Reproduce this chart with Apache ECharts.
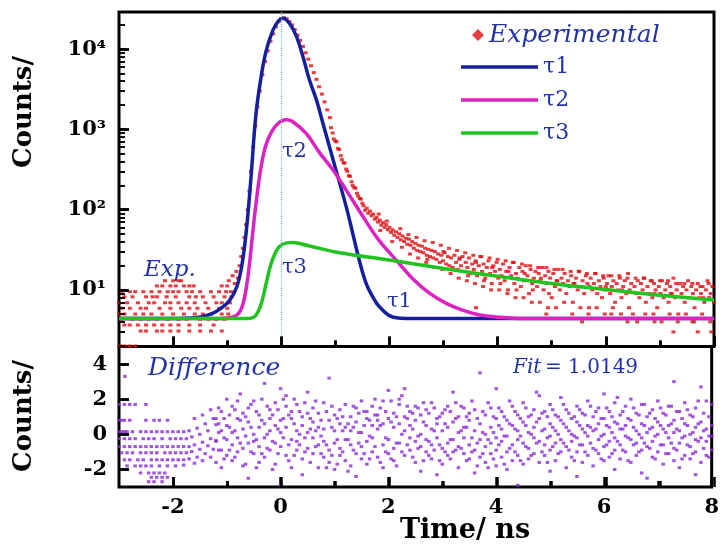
<!DOCTYPE html>
<html>
<head>
<meta charset="utf-8">
<title>Decay fit</title>
<script src="https://cdn.jsdelivr.net/npm/echarts@6/dist/echarts.min.js"></script>
<style>
html, body { margin: 0; padding: 0; background: #fff; }
#wrap { position: relative; width: 722px; height: 544px; }
#main, #ticks { position: absolute; left: 0; top: 0; width: 722px; height: 544px; }
#ticks { pointer-events: none; }
</style>
</head>
<body>
<div id="wrap"><div id="main"></div><div id="ticks"></div></div>
<script>
// fitted components, [time ns, counts]
var tau1Data = [[-3,4.4],[-2,4.4],[-1.6,4.5],[-1.3,5],[-1.1,6],[-0.95,7.5],[-0.82,11],[-0.72,22],[-0.64,60],[-0.56,250],
    [-0.47,1500],[-0.38,4200],[-0.28,9500],[-0.15,17500],[-0.05,22500],[0.03,24300],[0.15,21000],[0.28,14400],[0.4,8100],
    [0.52,4140],[0.65,2330],[0.77,1190],[0.89,611],[1.01,313],[1.2,109],[1.32,51],[1.44,23.6],[1.57,12],[1.7,8],[1.81,6.2],
    [2.06,4.6],[2.4,4.4],[8,4.4]];
var tau2Data = [[-3,4.4],[-1.2,4.4],[-0.9,4.6],[-0.77,5.3],[-0.68,8],[-0.6,18],[-0.53,50],[-0.46,130],[-0.38,320],[-0.29,620],
    [-0.18,930],[-0.05,1200],[0.09,1320],[0.2,1260],[0.46,890],[0.7,520],[0.95,316],[1.2,175],[1.51,82],[1.8,42],[2.12,23.6],
    [2.42,14],[2.74,9.1],[3.05,6.8],[3.35,5.6],[3.65,4.9],[3.97,4.6],[4.5,4.4],[8,4.4]];
var tau3Data = [[-3,4.4],[-0.62,4.4],[-0.5,4.6],[-0.42,5.5],[-0.35,7.5],[-0.28,12],[-0.2,20],[-0.12,28],[-0.03,35],[0.1,38.5],
    [0.21,39],[0.5,35.5],[1.08,29],[2,23.5],[3,18.5],[4,14.8],[5,12],[6,10.1],[7,8.6],[8,7.5]];

// experimental background before the pulse: count level and the times seen at that level
var bgLevels = [13, 11.2, 9.5, 8.2, 6.9, 5.9, 5.0, 4.3, 3.65, 3.07, 2.0];
var bgTimes = [
    [-2.15, -2.0, -1.9, -1.85],
    [-2.3, -2.2, -2.05, -1.95, -1.8, -1.7, -1.62, -1.1],
    [-2.95, -2.8, -2.7, -2.55, -2.4, -2.25, -2.1, -2.0, -1.9, -1.75, -1.65, -1.5, -1.3, -1.15, -1.02],
    [-2.9, -2.75, -2.5, -2.38, -2.3, -2.12, -1.95, -1.7, -1.58, -1.45, -1.25, -1.05, -0.92],
    [-3.0, -2.85, -2.65, -2.45, -2.35, -2.15, -2.05, -1.9, -1.75, -1.6, -1.4, -1.2, -1.1, -0.95],
    [-2.95, -2.8, -2.6, -2.5, -2.25, -2.05, -1.85, -1.7, -1.55, -1.35, -1.15, -1.0],
    [-3.0, -2.9, -2.7, -2.55, -2.4, -2.2, -2.0, -1.8, -1.6, -1.45, -1.3, -1.1, -0.98],
    [-2.95, -2.75, -2.6, -2.45, -2.3, -2.1, -1.9, -1.75, -1.5, -1.35, -1.2, -1.05],
    [-2.9, -2.8, -2.65, -2.5, -2.35, -2.2, -2.05, -1.9, -1.7, -1.5, -1.25],
    [-2.6, -2.5, -2.3, -2.2, -2.05, -1.9, -1.7, -1.5, -1.3, -1.1],
    [-2.98, -2.9, -2.8, -2.7]
];
// experimental rise, peak and decay [time ns, counts]
var expDecay = [[-1.0,11.2],[-0.97,13],[-0.93,9.5],[-0.9,15],[-0.86,12],[-0.83,17],[-0.8,14],[-0.77,20],[-0.74,26],[-0.71,33],
    [-0.68,45],[-0.65,65],[-0.62,100],[-0.59,170],[-0.56,300],[-0.52,600],[-0.48,1100],[-0.44,1900],[-0.4,3000],[-0.35,4800],
    [-0.3,7000],[-0.25,9500],[-0.2,12500],[-0.15,15500],[-0.1,19000],[-0.05,22000],[0,24000],
    [0.05,24500],[0.1,23800],[0.15,22000],[0.2,20000],[0.25,17500],[0.3,15000],[0.35,12800],[0.4,10800],[0.45,9000],
    [0.5,7500],[0.55,6200],[0.6,5100],[0.65,4200],[0.7,3400],[0.75,2750],[0.8,2200],[0.85,1750],[0.9,1400],[0.92,1050],
    [0.95,900],[0.97,760],[1.0,720],[1.02,700],[1.05,580],[1.07,560],[1.1,470],[1.12,420],[1.15,385],[1.17,380],[1.2,320],
    [1.22,300],[1.25,265],[1.27,260],[1.3,222],[1.32,200],[1.35,188],[1.37,185],[1.4,160],[1.42,148],[1.45,138],[1.47,135],
    [1.5,120],[1.52,112],[1.55,98],[1.58,104],[1.61,90],[1.64,96],[1.67,84],[1.7,88],[1.73,76],[1.76,80],[1.79,70],[1.82,74],
    [1.85,64],[1.88,69],[1.91,60],[1.94,65],[1.97,56],[2.0,60],[2.03,52],[2.06,56],[2.09,48],[2.12,53],[2.15,45],[2.18,50],
    [2.21,42],[2.24,47],[2.27,40],[2.3,44],[2.33,37],[2.36,43],[2.39,36],[2.42,40],[2.45,33],[2.48,38],[2.51,31],[2.54,36],
    [2.57,30],[2.6,35],[2.63,29],[2.66,33],[2.69,27],[2.72,32],[2.75,26],[2.78,31],[2.81,25],[2.84,30],[2.87,24],[2.9,28],
    [2.93,22],[2.96,27],[2.99,23],[3.02,29],[3.05,21],[3.08,26],[3.11,20],[3.14,25],[3.17,19],[3.2,27],[3.23,22],[3.26,18],
    [3.29,24],[3.32,20],[3.35,26],[3.38,17],[3.41,22],[3.44,19],[3.47,25],[3.5,16],[3.53,21],[3.56,18],[3.59,23],[3.62,15],
    [3.65,20],[3.68,26],[3.71,17],[3.74,21],[3.77,14],[3.8,19],[3.83,23],[3.86,16],[3.89,12],[3.92,20],[3.95,17],[3.98,22],
    [4.01,14],[4.04,18],[4.07,15],[4.1,21],[4.13,13],[4.16,17],[4.19,10],[4.22,19],[4.25,15],[4.28,22],[4.31,12],[4.34,16],
    [4.37,14],[4.4,19],[4.43,11],[4.46,17],[4.49,13],[4.52,20],[4.55,15],[4.58,9],[4.61,18],[4.64,12],[4.67,14],[4.7,17],
    [4.73,11],[4.76,16],[4.79,13],[4.82,19],[4.85,10],[4.88,15],[4.91,12],[4.94,17],[4.97,14],[5.0,8],[5.03,16],[5.06,11],
    [5.09,13],[5.12,18],[5.15,10],[5.18,14],[5.21,12],[5.24,16],[5.27,9],[5.3,13],[5.33,11],[5.36,15],[5.39,7],[5.42,12],
    [5.45,14],[5.48,10],[5.51,17],[5.54,11],[5.57,13],[5.6,9],[5.63,15],[5.66,12],[5.69,6],[5.72,14],[5.75,10],[5.78,12],
    [5.81,16],[5.84,9],[5.87,13],[5.9,11],[5.93,8],[5.96,14],[5.99,10],[6.02,12],[6.05,15],[6.08,9],[6.11,11],[6.14,13],
    [6.17,7],[6.2,12],[6.23,10],[6.26,14],[6.29,8],[6.32,11],[6.35,13],[6.38,9],[6.41,16],[6.44,10],[6.47,12],[6.5,5],
    [6.53,11],[6.56,9],[6.59,13],[6.62,8],[6.65,12],[6.68,10],[6.71,14],[6.74,7],[6.77,11],[6.8,9],[6.83,13],[6.86,8],
    [6.89,12],[6.92,10],[6.95,6],[6.98,11],[7.01,9],[7.04,13],[7.07,8],[7.1,10],[7.13,12],[7.16,7],[7.19,11],[7.22,9],
    [7.25,14],[7.28,8],[7.31,10],[7.34,5],[7.37,12],[7.4,9],[7.43,11],[7.46,7],[7.49,10],[7.52,13],[7.55,8],[7.58,11],
    [7.61,9],[7.64,6],[7.67,10],[7.7,12],[7.73,8],[7.76,9],[7.79,11],[7.82,7],[7.85,10],[7.88,13],[7.91,8],[7.94,9],
    [7.97,11],[8.0,7],[5.56,4],[6.1,5],[6.4,4],[6.9,4],[7.25,3],[7.6,4],[7.7,3],[7.95,3],[4.9,5],[3.6,6]];
// wider spread of the decay tail [time ns, counts]
var expSpread = [[1.8,88],[1.83,55],[1.95,72],[2.05,40],[2.2,58],[2.23,34],[2.35,49],[2.38,28],[2.5,45],[2.53,25],
    [2.65,41],[2.68,22],[2.8,39],[2.83,19],[2.95,36],[2.98,18],[3.1,33],[3.13,16],[3.25,31],[3.28,14],[3.4,29],[3.43,13],
    [3.55,27],[3.58,12],[3.7,26],[3.73,11],[3.85,25],[3.88,10],[4.0,24],[4.03,10],[4.15,23],[4.18,9],[4.3,22],[4.33,8],
    [4.45,21],[4.48,8],[4.6,20],[4.63,7],[4.75,19],[4.78,7],[4.9,19],[4.93,6],[5.05,18],[5.08,6],[5.2,18],[5.23,7],
    [5.35,17],[5.38,5],[5.5,17],[5.53,6],[5.65,16],[5.68,5],[5.8,16],[5.83,6],[5.95,15],[5.98,5],[6.1,15],[6.13,6],
    [6.25,15],[6.28,5],[6.4,14],[6.43,6],[6.55,14],[6.58,4],[6.7,14],[6.73,5],[6.85,13],[6.88,5],[7.0,13],[7.03,4],
    [7.15,13],[7.18,5],[7.3,12],[7.33,4],[7.45,12],[7.48,5],[7.6,12],[7.63,4],[7.75,11],[7.78,5],[7.9,12],[7.93,4],
    [3.0,30],[3.3,25],[3.6,22],[3.9,19],[4.2,17],[4.5,16],[4.8,14],[5.1,13],[5.4,12],[5.7,11],[6.0,11],[6.3,10],[6.6,9],
    [6.9,9],[7.2,9],[7.5,8],[7.8,8],[2.7,24],[3.15,18],[3.45,15],[3.75,13],[4.05,12],[4.35,10],[4.65,10],[4.95,9]];

// residuals: flat rows before the pulse
var diffRowLevels = [1.7, 0.8, 0.15, -0.25, -0.7, -1.05, -1.45, -1.8, -2.2, -2.45, -2.7];
var diffRowTimes = [
    [-3, -2.9, -2.8, -2.7, -2.5],
    [-3, -2.95, -2.9, -2.8, -2.5, -2.35, -2.25, -2.1],
    [-3, -2.95, -2.9, -2.85, -2.75, -2.6, -2.5, -2.4, -2.3, -2.2, -2.1, -2.0, -1.9, -1.8],
    [-3, -2.9, -2.8, -2.7, -2.55, -2.45, -2.35, -2.2, -2.05, -1.95, -1.85, -1.75],
    [-3, -2.9, -2.8, -2.7, -2.6, -2.5, -2.4, -2.3, -2.2, -2.1, -2.0, -1.9, -1.8, -1.7],
    [-2.95, -2.85, -2.75, -2.6, -2.5, -2.4, -2.3, -2.15, -2.05, -1.95, -1.85, -1.75],
    [-2.9, -2.8, -2.65, -2.55, -2.4, -2.3, -2.2, -2.1, -2.0, -1.9, -1.8],
    [-2.85, -2.7, -2.6, -2.5, -2.4, -2.25, -2.1, -1.95],
    [-2.6, -2.45, -2.35, -2.25, -2.15],
    [-2.4, -2.3, -2.2, -2.1],
    [-2.45, -2.35, -2.2]
];
// residuals bending up into the pulse [time, residual]
var diffBend = [[-1.6,0.9],[-1.45,1.1],[-1.3,1.4],[-1.7,0.2],[-1.55,0.35],[-1.4,0.6],[-1.25,0.9],[-1.65,-0.15],[-1.5,0.0],
    [-1.35,0.2],[-1.2,0.55],[-1.6,-0.6],[-1.45,-0.45],[-1.3,-0.25],[-1.15,0.1],[-1.65,-0.98],[-1.5,-0.85],[-1.35,-0.65],
    [-1.2,-0.35],[-1.7,-1.4],[-1.55,-1.3],[-1.4,-1.1],[-1.25,-0.85],[-1.8,-1.75],[-1.6,-1.65],[-1.45,-1.5],[-1.3,-1.3],
    [-2.89,3.3]];
// residuals after the pulse: times and the residuals read at each time
var diffTimes = [-1.2,-1.1,-1.0,-0.9,-0.8,-0.7,-0.6,-0.5,-0.4,-0.3,-0.2,-0.1,0.0,0.1,0.2,0.3,0.4,0.5,0.6,0.7,0.8,0.9,1.0,
    1.1,1.2,1.3,1.4,1.5,1.6,1.7,1.8,1.9,2.0,2.1,2.2,2.3,2.4,2.5,2.6,2.7,2.8,2.9,3.0,3.1,3.2,3.3,3.4,3.5,3.6,3.7,3.8,3.9,
    4.0,4.1,4.2,4.3,4.4,4.5,4.6,4.7,4.8,4.9,5.0,5.1,5.2,5.3,5.4,5.5,5.6,5.7,5.8,5.9,6.0,6.1,6.2,6.3,6.4,6.5,6.6,6.7,6.8,
    6.9,7.0,7.1,7.2,7.3,7.4,7.5,7.6,7.7,7.8,7.9,8.0];
var diffValues = [
    [0.9,-0.4,-1.6],[1.3,0.2,-0.9,-1.9],[0.5,-0.3,-1.2,2.0],[1.6,-0.6,0.1,-1.5],[0.9,-0.2,-1.0,1.9],[0.3,-0.8,1.2,-1.8],
    [0.7,-0.5,-2.5,1.5],[1.9,0.0,-1.1,-0.4],[1.1,-0.7,0.4,-1.6],[2.9,0.6,-0.2,-1.3],[1.4,-0.9,0.2,0.9],[0.5,-0.5,1.8,-1.7],
    [2.6,0.8,-0.7,-2.9,0.1],[1.6,0.4,-1.2,2.2],[0.9,-0.3,-1.9,1.3],[0.2,-0.9,1.7,-0.4],[1.0,-1.4,0.5,-2.3],[2.4,0.1,-0.8,1.2],
    [1.5,-0.2,-1.1,0.7],[1.2,-0.6,0.4,-1.9],[1.8,0.3,-1.3,-0.4],[3.2,0.8,-0.9,-1.6],[0.2,-0.5,1.1,-2.0],[1.4,-0.8,0.6,-1.2],
    [0.4,-1.5,1.7,-0.3],[1.0,-0.6,0.2,-1.8],[0.7,-1.1,1.5,-2.4],[1.9,0.1,-0.7,-1.4],[0.9,-0.4,1.3,-1.7],[1.6,0.5,-1.0,-0.2],
    [0.3,-1.3,1.1,0.8],[1.9,-0.6,0.6,-1.9],[2.5,0.9,-0.3,-1.1],[1.2,-0.8,0.4,-1.5],[1.7,0.6,-0.5,2.0],[2.6,0.2,-1.2,1.0],
    [1.3,-0.2,-0.9,0.5],[0.8,-1.6,1.6,-0.4],[1.1,0.0,-0.7,-2.1],[0.5,-1.0,1.4,-0.3],[1.8,0.3,-0.6,-1.4],[0.9,-0.2,-2.3,0.6],
    [1.2,-0.8,0.2,-1.7],[0.4,-1.2,1.6,-0.5],[2.4,0.7,-0.3,-1.0],[1.0,-0.7,0.1,-1.9],[1.5,0.4,-1.1,-0.2],[0.8,-0.6,1.2,-1.4],
    [1.4,0.2,-0.9,-2.2],[3.5,0.6,-0.3,-1.3],[1.1,0.0,-0.7,-1.6],[1.5,0.4,-0.5,-1.1],[2.6,0.9,-0.2,-0.9,-1.8],
    [1.3,0.3,-0.4,-1.3],[0.8,-0.1,-1.0,-2.0],[1.6,0.5,-0.6,-1.5],[1.1,0.2,-0.3,-1.2,-2.9],[1.8,0.7,-0.5,-1.7],
    [1.0,0.1,-0.8,-1.4],[1.4,0.4,-0.2,-1.1],[0.9,-0.4,-1.6,2.2],[1.3,0.3,-0.6,-1.2],[1.7,0.6,-0.1,-0.9,-2.1],
    [1.1,0.2,-0.5,-1.5],[2.1,0.8,-0.3,-1.0],[1.4,0.4,-0.7,-1.9],[0.9,0.0,-0.4,-1.3],[1.6,0.7,-0.2,-1.0,-2.4],
    [1.2,0.3,-0.6,-1.6],[1.9,0.5,-0.1,-1.2],[1.0,0.2,-0.8,-1.8],[1.5,0.6,-0.3,-1.1],[2.3,0.9,0.0,-0.7,-1.5],
    [1.3,0.4,-0.4,-1.3],[1.8,0.7,-0.2,-0.9,-2.0],[1.1,0.3,-0.6,-1.4],[1.6,0.5,-0.1,-1.0],[2.0,0.8,-0.3,-1.6],
    [1.2,0.2,-0.5,-1.2],[1.7,0.6,-0.2,-0.9,-2.2],[1.0,0.1,-0.7,-2.5],[1.4,0.4,-0.4,-1.3],[1.9,0.7,0.0,-1.0],
    [1.2,0.3,-0.6,-1.7],[1.6,0.5,-0.2,-1.1],[3.0,0.8,0.1,-0.8,-1.5],[1.3,0.2,-0.5,-1.9],[1.8,0.6,-0.1,-1.2],
    [1.1,0.0,-0.7,-1.4],[1.5,0.4,-0.3,-1.0,-2.3],[2.7,0.7,-0.2,-1.6],[1.9,0.3,-0.4,-1.2],[1.7,0.5,-0.1,-0.9]
];
var diffTimes2 = [-1.15,-1.05,-0.95,-0.85,-0.75,-0.65,-0.55,-0.45,-0.35,-0.25,-0.15,-0.05,0.05,0.15,0.25,0.35,0.45,0.55,
    0.65,0.75,0.85,0.95,1.05,1.15,1.25,1.35,1.45,1.55,1.65,1.75,1.85,1.95,2.05,2.15,2.25,2.35,2.45,2.55,2.65,2.75,2.85,
    2.95,3.05,3.15,3.25,3.35,3.45,3.55,3.65,3.75,3.85,3.95,4.05,4.15,4.25,4.35,4.45,4.55,4.65,4.75,4.85,4.95,5.05,5.15,
    5.25,5.35,5.45,5.55,5.65,5.75,5.85,5.95,6.05,6.15,6.25,6.35,6.45,6.55,6.65,6.75,6.85,6.95,7.05,7.15,7.25,7.35,7.45,
    7.55,7.65,7.75,7.85,7.95];
var diffValues2 = [
    [0.6,-0.9,1.5],[-0.2,0.9,-1.4],[1.1,-0.9,0.4],[0.2,-1.3,1.4],[-0.5,0.8,2.3],[1.0,-0.1,-1.7],[0.4,-1.0,1.7],[-0.3,1.3,-1.9],
    [0.8,-1.1,2.0],[0.0,1.6,-0.8],[1.1,-0.4,-2.0],[0.3,1.4,-1.1],[2.0,-0.2,0.9],[-0.6,1.1,-1.5],[0.6,-1.2,2.0],[1.3,-0.6,0.0],
    [-0.2,1.8,-1.0],[0.9,-1.6,0.3],[1.9,-0.7,0.2],[0.8,-1.1,-0.1],[1.3,-0.6,-1.9],[0.4,-1.2,1.6],[-0.3,0.9,-1.7],[1.0,-1.0,0.2],
    [0.6,-0.3,-2.1],[1.6,-0.9,0.4],[0.1,-0.5,1.2],[1.3,-1.1,0.5],[-0.1,0.8,-1.4],[1.1,-0.7,2.0],[0.5,-1.6,1.5],[1.3,-0.2,-1.0],
    [0.7,-1.4,1.9],[1.0,-0.5,-1.8],[2.2,0.0,-1.0],[0.9,-0.6,1.6],[0.3,-1.3,1.2],[1.5,-0.8,-0.1],[0.7,-1.5,1.8],[1.2,-0.4,-1.2],
    [0.2,1.5,-0.9],[1.0,-0.6,-1.5],[0.6,1.4,-1.0],[1.3,-0.3,-1.4],[0.9,-0.9,1.8],[1.6,0.2,-0.8],[0.4,-1.5,1.0],[1.9,-0.2,-1.0],
    [0.9,-0.5,-1.8],[1.3,0.1,-1.1],[1.8,-0.3,-1.9],[1.0,0.1,-1.4],[1.5,0.5,-0.6],[1.0,-0.1,-1.7],[1.9,0.6,-0.8],[1.3,0.3,-1.0],
    [0.9,-0.1,-1.5],[1.5,0.5,-0.7],[1.1,0.0,-1.2],[2.4,0.7,-0.5],[1.2,0.2,-1.0],[1.0,-0.2,-1.6],[1.4,0.4,-0.7],[1.0,0.0,-1.1],
    [1.7,0.6,-0.5],[1.2,0.2,-0.9],[1.0,-0.1,-1.5],[1.4,0.5,-0.6],[1.1,0.1,-1.0],[1.6,0.4,-0.5],[1.3,0.3,-0.9],[0.9,-0.1,-1.4],
    [1.5,0.5,-0.6],[1.0,0.1,-1.1],[2.1,0.6,-0.4],[1.3,0.3,-0.9],[0.9,-0.2,-1.5],[1.5,0.4,-0.6],[1.1,0.0,-1.0],[1.7,0.5,-0.5],
    [1.2,0.3,-0.8],[0.9,-0.1,-1.4],[1.5,0.5,-0.6],[1.1,0.1,-1.1],[1.6,0.6,-0.5],[1.3,0.3,-0.9],[0.9,-0.2,-1.4],[1.4,0.5,-0.6],
    [1.0,0.1,-1.1],[1.9,0.6,-0.4],[1.2,0.2,-0.8],[1.0,-0.1,-1.3]
];

var majorX = [-2, 0, 2, 4, 6, 8];
var minorX = [-1, 1, 3, 5, 7];
var logLabels = [10, 100, 1000, 10000];
var logMinor = [2,3,4,5,6,7,8,9,20,30,40,50,60,70,80,90,200,300,400,500,600,700,800,900,
    2000,3000,4000,5000,6000,7000,8000,9000,20000];
var diffLabels = [-2, 0, 2, 4];
var supDigits = ['⁰', '¹', '²', '³', '⁴'];

var expData = [];
for (var i = 0; i < bgLevels.length; i++) {
    for (var j = 0; j < bgTimes[i].length; j++) expData.push([bgTimes[i][j], bgLevels[i]]);
}
expData = expData.concat(expDecay, expSpread);

var diffData = [];
for (i = 0; i < diffRowLevels.length; i++) {
    for (j = 0; j < diffRowTimes[i].length; j++) diffData.push([diffRowTimes[i][j], diffRowLevels[i]]);
}
diffData = diffData.concat(diffBend);
for (i = 0; i < diffTimes.length; i++) {
    for (j = 0; j < diffValues[i].length; j++) diffData.push([diffTimes[i], diffValues[i][j]]);
}
for (i = 0; i < diffTimes2.length; i++) {
    for (j = 0; j < diffValues2[i].length; j++) diffData.push([diffTimes2[i], diffValues2[i][j]]);
}

var serif = 'DejaVu Serif';
var blueText = '#2233aa';

function grids(show) {
    return [
        { left: 119, top: 12, width: 595, height: 334.5, show: show, borderColor: '#000', borderWidth: 3 },
        { left: 119, top: 346.5, width: 595, height: 140.5, show: show, borderColor: '#000', borderWidth: 3 }
    ];
}

function xAxisFor(grid, ticks, len, labels, showTicks) {
    return {
        type: 'value', gridIndex: grid, min: -3, max: 8, position: 'bottom',
        axisLine: { show: false, onZero: false }, splitLine: { show: false },
        axisTick: { show: showTicks, inside: true, length: len, customValues: ticks, lineStyle: { color: '#000', width: 2.5 } },
        axisLabel: labels ? { show: true, customValues: ticks, margin: 10, fontFamily: serif, fontWeight: 'bold', fontSize: 21, color: '#000' }
            : { show: false }
    };
}

// axes, used once with labels for the data chart and once with ticks for the overlay
function buildX(labels, showTicks) {
    return [
        xAxisFor(0, majorX, 10, false, showTicks),
        xAxisFor(0, minorX, 6, false, showTicks),
        xAxisFor(1, majorX, 10, labels, showTicks),
        xAxisFor(1, minorX, 6, false, showTicks)
    ];
}

function buildY(labels, showTicks) {
    return [
        {
            type: 'log', gridIndex: 0, min: 1.97, max: 29000, position: 'left',
            axisLine: { show: false, onZero: false }, splitLine: { show: false },
            axisTick: { show: showTicks, inside: true, length: 10, customValues: logLabels, lineStyle: { color: '#000', width: 2.5 } },
            axisLabel: {
                show: labels, customValues: logLabels, margin: 13, fontFamily: serif, fontWeight: 'bold', fontSize: 21, color: '#000',
                formatter: function (v) {
                    return '10' + supDigits[Math.round(Math.log(v) / Math.LN10)];
                }
            }
        },
        {
            type: 'log', gridIndex: 0, min: 1.97, max: 29000, position: 'left',
            axisLine: { show: false, onZero: false }, splitLine: { show: false },
            axisTick: { show: showTicks, inside: true, length: 6, customValues: logMinor, lineStyle: { color: '#000', width: 1.5 } },
            axisLabel: { show: false }
        },
        {
            type: 'value', gridIndex: 1, min: -3, max: 5, position: 'left',
            axisLine: { show: false, onZero: false }, splitLine: { show: false },
            axisTick: { show: showTicks, inside: true, length: 10, customValues: diffLabels, lineStyle: { color: '#000', width: 2.5 } },
            axisLabel: { show: labels, customValues: diffLabels, margin: 12, fontFamily: serif, fontWeight: 'bold', fontSize: 21, color: '#000' }
        }
    ];
}

var myChart = echarts.init(document.getElementById('main'));
var option = {
    animation: false,
    backgroundColor: '#fff',
    grid: grids(true),
    legend: [
        {
            data: ['Experimental'], left: 472, top: 21, padding: 0, icon: 'diamond', itemWidth: 12, itemHeight: 12,
            textStyle: { fontFamily: serif, fontStyle: 'italic', fontSize: 25, color: blueText, lineHeight: 28 }
        },
        {
            data: ['τ1', 'τ2', 'τ3'], orient: 'vertical', left: 461, top: 54, padding: 0, itemGap: 7,
            icon: 'rect', itemWidth: 77, itemHeight: 3.5, itemStyle: { borderWidth: 0 },
            textStyle: { fontFamily: serif, fontSize: 22, color: blueText, lineHeight: 26 }
        }
    ],
    xAxis: buildX(true, true),
    yAxis: buildY(true, true),
    series: [
        {
            name: 'Experimental', type: 'scatter', xAxisIndex: 0, yAxisIndex: 0, z: 1,
            symbol: 'rect', symbolSize: [4, 3], itemStyle: { color: '#e00c12' }, data: expData
        },
        {
            name: 'τ1', type: 'line', xAxisIndex: 0, yAxisIndex: 0, z: 3, smooth: 0.4, symbol: 'none',
            itemStyle: { color: '#14209e' }, lineStyle: { color: '#14209e', width: 3.5 }, data: tau1Data,
            markLine: {
                silent: true, symbol: 'none', label: { show: false },
                lineStyle: { color: '#82b4cf', type: 'dotted', width: 1.2 },
                data: [{ xAxis: 0 }]
            }
        },
        {
            name: 'τ2', type: 'line', xAxisIndex: 0, yAxisIndex: 0, z: 3, smooth: 0.4, symbol: 'none',
            itemStyle: { color: '#dd22c4' }, lineStyle: { color: '#dd22c4', width: 3.5 }, data: tau2Data
        },
        {
            name: 'τ3', type: 'line', xAxisIndex: 0, yAxisIndex: 0, z: 3, smooth: 0.4, symbol: 'none',
            itemStyle: { color: '#1fc41f' }, lineStyle: { color: '#1fc41f', width: 3.5 }, data: tau3Data
        },
        {
            name: 'Difference', type: 'scatter', xAxisIndex: 2, yAxisIndex: 2,
            symbol: 'rect', symbolSize: [3.5, 3], itemStyle: { color: '#8a2ad8' }, data: diffData
        }
    ],
    graphic: [
        { type: 'text', x: 24, y: 112, rotation: Math.PI / 2,
          style: { text: 'Counts/', fontFamily: serif, fontWeight: 'bold', fontSize: 26, fill: '#000', align: 'center', verticalAlign: 'middle' } },
        { type: 'text', x: 24, y: 416, rotation: Math.PI / 2,
          style: { text: 'Counts/', fontFamily: serif, fontWeight: 'bold', fontSize: 26, fill: '#000', align: 'center', verticalAlign: 'middle' } },
        { type: 'text', x: 465, y: 531,
          style: { text: 'Time/ ns', fontFamily: serif, fontWeight: 'bold', fontSize: 27, fill: '#000', align: 'center', verticalAlign: 'middle' } },
        { type: 'text', x: 144, y: 270,
          style: { text: 'Exp.', fontFamily: serif, fontStyle: 'italic', fontSize: 23, fill: blueText, verticalAlign: 'middle' } },
        { type: 'text', x: 282, y: 152,
          style: { text: 'τ2', fontFamily: serif, fontSize: 21, fill: blueText, verticalAlign: 'middle' } },
        { type: 'text', x: 282, y: 268,
          style: { text: 'τ3', fontFamily: serif, fontSize: 21, fill: blueText, verticalAlign: 'middle' } },
        { type: 'text', x: 387, y: 302,
          style: { text: 'τ1', fontFamily: serif, fontSize: 21, fill: blueText, verticalAlign: 'middle' } },
        { type: 'text', x: 148, y: 368,
          style: { text: 'Difference', fontFamily: serif, fontStyle: 'italic', fontSize: 25, fill: blueText, verticalAlign: 'middle' } },
        { type: 'text', x: 513, y: 368,
          style: { text: 'Fit', fontFamily: serif, fontStyle: 'italic', fontSize: 20, fill: blueText, verticalAlign: 'middle' } },
        { type: 'text', x: 545, y: 368,
          style: { text: '= 1.0149', fontFamily: serif, fontSize: 20, fill: blueText, verticalAlign: 'middle' } }
    ]
};
myChart.setOption(option);

// tick marks drawn by a second, transparent chart with the same grids and axes
var tickChart = echarts.init(document.getElementById('ticks'));
tickChart.setOption({
    animation: false,
    backgroundColor: 'transparent',
    grid: grids(false),
    xAxis: buildX(false, true),
    yAxis: buildY(false, true),
    series: []
});
</script>
</body>
</html>
